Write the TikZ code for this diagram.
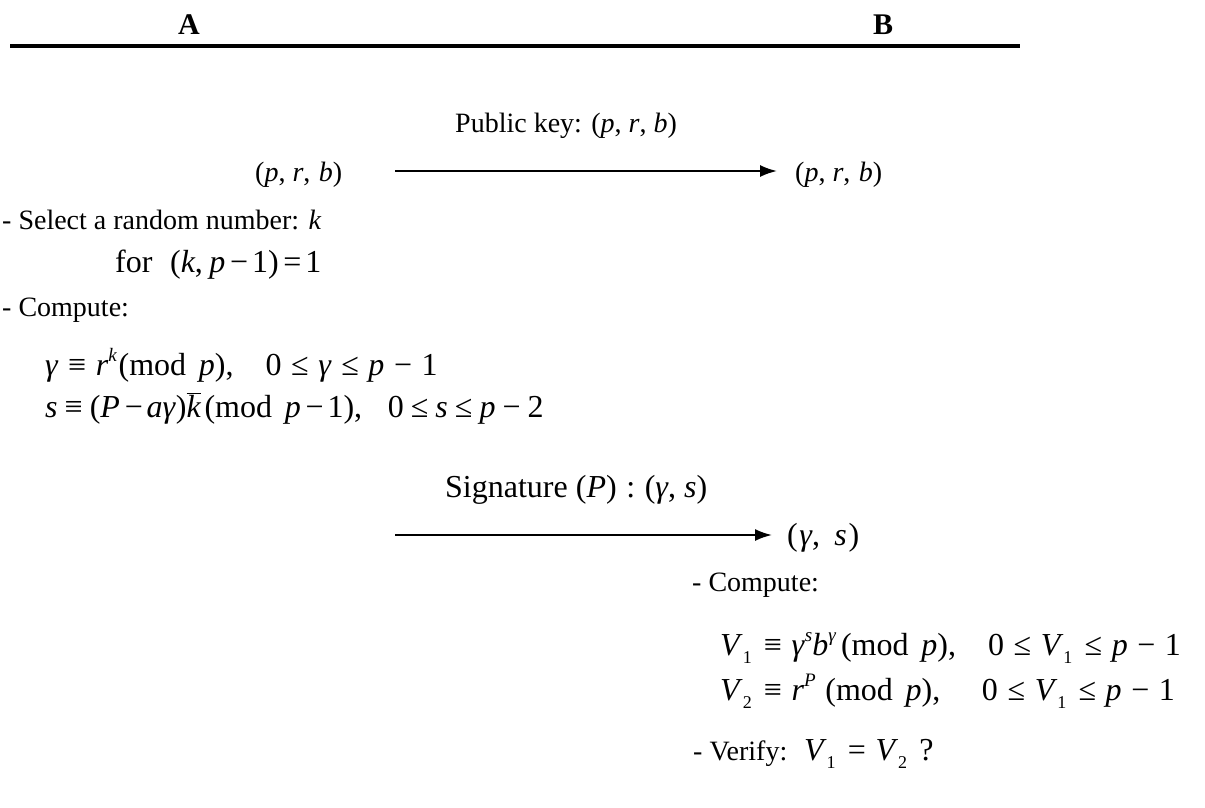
\documentclass[tikz,border=0pt]{standalone}
\usepackage{fontspec}
\setmainfont{Liberation Serif}
\usetikzlibrary{arrows.meta}
\newcommand\mysup[1]{\raisebox{0.42em}{\fontsize{19}{19}\selectfont #1}}
\newcommand\mysub[1]{\raisebox{-0.25em}{\fontsize{18}{18}\selectfont #1}\hspace{0.08em}}
\newcommand\vv[1]{\textit{#1}}
\newcommand\rel[1]{\hspace{0.3em}#1\hspace{0.3em}}
\newcommand\mrel[1]{\hspace{0.22em}#1\hspace{0.22em}}
\newcommand\trel[1]{\hspace{0.15em}#1\hspace{0.12em}}
\newcommand\gap{\hspace{1.0em}}
\newcommand\modsp{\hspace{0.4em}}
\newcommand\kbar{$\overline{\hbox{\vv{k}}}$}
\begin{document}
\begin{tikzpicture}[x=1pt,y=-1pt,
  txt/.style={anchor=base west, inner sep=0pt, font=\fontsize{28}{33}\selectfont},
  mth/.style={anchor=base west, inner sep=0pt, font=\fontsize{32}{38}\selectfont},
  hdr/.style={anchor=base, inner sep=0pt, font=\fontsize{30}{36}\selectfont\bfseries},
  msg/.style={line width=2pt, -{Latex[length=17pt,width=12pt]}},
  rule/.style={line width=4pt}]
\useasboundingbox (0,0) rectangle (1205,807);

% header
\node[hdr] (A) at (189,34) {A};
\node[hdr] (B) at (883,34) {B};
\coordinate (ruleL) at (10,46);
\coordinate (ruleR) at (1020,46);
\draw[rule] (ruleL) -- (ruleR);

% public key
\node[txt] (pklabel) at (455,132) {Public key: (\vv{p}, \vv{r}, \vv{b})};
\node[txt] (prbA) at (255,181) {(\vv{p}, \vv{r},\hspace{0.3em}\vv{b})};
\node[txt] (prbB) at (795,181) {(\vv{p}, \vv{r},\hspace{0.3em}\vv{b})};
\coordinate (m1s) at (395,171);
\coordinate (m1e) at (777,171);
\draw[msg] (m1s) -- (m1e);

% A side
\node[txt] (sel) at (2,229) {- Select a random number: \vv{k}};
\node[mth] (for) at (115,272) {for\hspace{0.55em}(\vv{k},\hspace{0.2em}\vv{p}\trel{−}1)\trel{=}1};
\node[txt] (compA) at (2,316) {- Compute:};
\node[mth] (gam) at (45,375) {\vv{γ}\rel{≡}\vv{r}\mysup{\vv{k}}\hspace{0.05em}(mod\modsp\vv{p}),\gap0\rel{≤}\vv{γ}\rel{≤}\vv{p}\rel{−}1};
\node[mth] (sig) at (45,417) {\vv{s}\mrel{≡}(\vv{P}\trel{−}\vv{aγ})\kbar\hspace{0.1em}(mod\modsp\vv{p}\trel{−}1),\hspace{0.8em}0\mrel{≤}\vv{s}\mrel{≤}\vv{p}\mrel{−}2};

% signature message
\node[mth] (siglabel) at (445,497) {Signature (\vv{P})\rel{:}(\vv{γ},\hspace{0.25em}\vv{s})};
\coordinate (m2s) at (395,535);
\coordinate (m2e) at (772,535);
\draw[msg] (m2s) -- (m2e);
\node[mth] (gs) at (787,545) {(\hspace{0.05em}\vv{γ},\hspace{0.45em}\vv{s}\hspace{0.05em})};

% B side
\node[txt] (compB) at (692,591) {- Compute:};
\node[mth] (v1) at (720,655) {\vv{V}\mysub{1}\rel{≡}\vv{γ}\mysup{\vv{s}}\vv{b}\mysup{\vv{γ}}\hspace{0.15em}(mod\modsp\vv{p}),\gap0\rel{≤}\vv{V}\mysub{1}\rel{≤}\vv{p}\rel{−}1};
\node[mth] (v2) at (720,700) {\vv{V}\mysub{2}\rel{≡}\vv{r}\mysup{\vv{P}}\hspace{0.3em}(mod\modsp\vv{p}),\hspace{1.3em}0\rel{≤}\vv{V}\mysub{1}\rel{≤}\vv{p}\rel{−}1};
\node[txt] (ver) at (693,760) {- Verify:\hspace{0.6em}{\fontsize{32}{38}\selectfont\vv{V}\mysub{1}\rel{=}\vv{V}\mysub{2}\hspace{0.3em}?}};
\end{tikzpicture}
\end{document}
